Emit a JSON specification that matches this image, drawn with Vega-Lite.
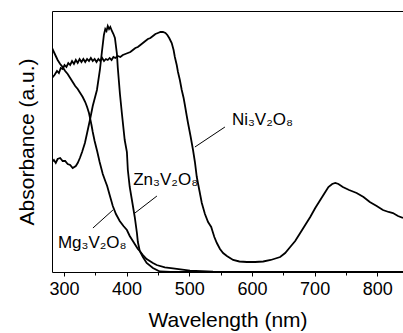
{
  "$schema": "https://vega.github.io/schema/vega-lite/v6.json",
  "width": 351,
  "height": 261,
  "autosize": "none",
  "padding": {"left": 52, "top": 11, "right": 0, "bottom": 61},
  "background": "white",
  "config": {
    "view": {"stroke": null},
    "font": "Liberation Sans",
    "axis": {"grid": false, "labelFont": "Liberation Sans", "titleFont": "Liberation Sans", "labelColor": "black", "titleColor": "black", "domainColor": "black", "tickColor": "black", "titleFontWeight": "normal"}
  },
  "datasets": {
    "curves": [
      {"s": "Mg", "wl": 281, "a": 224}, {"s": "Mg", "wl": 284, "a": 220}, {"s": "Mg", "wl": 287, "a": 216}, {"s": "Mg", "wl": 290, "a": 212},
      {"s": "Mg", "wl": 294, "a": 208}, {"s": "Mg", "wl": 298, "a": 205}, {"s": "Mg", "wl": 302, "a": 201}, {"s": "Mg", "wl": 306, "a": 198},
      {"s": "Mg", "wl": 310, "a": 194}, {"s": "Mg", "wl": 314, "a": 190}, {"s": "Mg", "wl": 318, "a": 186}, {"s": "Mg", "wl": 322, "a": 183},
      {"s": "Mg", "wl": 326, "a": 179}, {"s": "Mg", "wl": 330, "a": 175}, {"s": "Mg", "wl": 334, "a": 170}, {"s": "Mg", "wl": 337, "a": 165},
      {"s": "Mg", "wl": 340, "a": 159}, {"s": "Mg", "wl": 342, "a": 153}, {"s": "Mg", "wl": 344, "a": 147}, {"s": "Mg", "wl": 346, "a": 140},
      {"s": "Mg", "wl": 349, "a": 131}, {"s": "Mg", "wl": 353, "a": 121}, {"s": "Mg", "wl": 357, "a": 110}, {"s": "Mg", "wl": 362, "a": 98},
      {"s": "Mg", "wl": 366, "a": 91}, {"s": "Mg", "wl": 369, "a": 86}, {"s": "Mg", "wl": 373, "a": 77}, {"s": "Mg", "wl": 378, "a": 66},
      {"s": "Mg", "wl": 383, "a": 58}, {"s": "Mg", "wl": 389, "a": 51}, {"s": "Mg", "wl": 395, "a": 46}, {"s": "Mg", "wl": 400.5, "a": 42},
      {"s": "Mg", "wl": 405, "a": 36}, {"s": "Mg", "wl": 410, "a": 31}, {"s": "Mg", "wl": 414, "a": 27}, {"s": "Mg", "wl": 418, "a": 23},
      {"s": "Mg", "wl": 421, "a": 21}, {"s": "Mg", "wl": 426, "a": 17}, {"s": "Mg", "wl": 432, "a": 13}, {"s": "Mg", "wl": 442, "a": 9},
      {"s": "Mg", "wl": 448, "a": 7}, {"s": "Mg", "wl": 461, "a": 4.7}, {"s": "Mg", "wl": 474, "a": 3.7}, {"s": "Mg", "wl": 501, "a": 1.3},
      {"s": "Mg", "wl": 538, "a": 0.3}, {"s": "Mg", "wl": 580, "a": 0}, {"s": "Mg", "wl": 841, "a": 0},

      {"s": "Zn", "wl": 281, "a": 110}, {"s": "Zn", "wl": 284, "a": 112}, {"s": "Zn", "wl": 287, "a": 109}, {"s": "Zn", "wl": 290, "a": 113},
      {"s": "Zn", "wl": 294, "a": 114}, {"s": "Zn", "wl": 298, "a": 111}, {"s": "Zn", "wl": 302, "a": 111}, {"s": "Zn", "wl": 306, "a": 108},
      {"s": "Zn", "wl": 310, "a": 107}, {"s": "Zn", "wl": 314, "a": 104}, {"s": "Zn", "wl": 319, "a": 106}, {"s": "Zn", "wl": 322, "a": 109},
      {"s": "Zn", "wl": 325.5, "a": 114}, {"s": "Zn", "wl": 329, "a": 120}, {"s": "Zn", "wl": 333.5, "a": 129}, {"s": "Zn", "wl": 337, "a": 139},
      {"s": "Zn", "wl": 341.5, "a": 152}, {"s": "Zn", "wl": 346, "a": 166}, {"s": "Zn", "wl": 352.7, "a": 182}, {"s": "Zn", "wl": 357.4, "a": 202},
      {"s": "Zn", "wl": 360.6, "a": 220}, {"s": "Zn", "wl": 363.8, "a": 237}, {"s": "Zn", "wl": 366, "a": 243}, {"s": "Zn", "wl": 368, "a": 241},
      {"s": "Zn", "wl": 370, "a": 246}, {"s": "Zn", "wl": 372, "a": 243}, {"s": "Zn", "wl": 374, "a": 245}, {"s": "Zn", "wl": 376.6, "a": 241},
      {"s": "Zn", "wl": 379, "a": 238}, {"s": "Zn", "wl": 381.4, "a": 234}, {"s": "Zn", "wl": 383, "a": 226}, {"s": "Zn", "wl": 384.6, "a": 218},
      {"s": "Zn", "wl": 386, "a": 204}, {"s": "Zn", "wl": 389.4, "a": 178}, {"s": "Zn", "wl": 392.6, "a": 158}, {"s": "Zn", "wl": 397, "a": 132},
      {"s": "Zn", "wl": 400.5, "a": 120}, {"s": "Zn", "wl": 402, "a": 102}, {"s": "Zn", "wl": 405, "a": 85}, {"s": "Zn", "wl": 408.5, "a": 72},
      {"s": "Zn", "wl": 413, "a": 55}, {"s": "Zn", "wl": 416.5, "a": 39}, {"s": "Zn", "wl": 418, "a": 30}, {"s": "Zn", "wl": 421, "a": 21},
      {"s": "Zn", "wl": 426, "a": 15}, {"s": "Zn", "wl": 432, "a": 9}, {"s": "Zn", "wl": 442, "a": 4}, {"s": "Zn", "wl": 453, "a": 0.5},
      {"s": "Zn", "wl": 470, "a": 0}, {"s": "Zn", "wl": 841, "a": 0},

      {"s": "Ni", "wl": 281, "a": 194}, {"s": "Ni", "wl": 285, "a": 197}, {"s": "Ni", "wl": 289, "a": 201}, {"s": "Ni", "wl": 292, "a": 199},
      {"s": "Ni", "wl": 295, "a": 204}, {"s": "Ni", "wl": 298, "a": 203}, {"s": "Ni", "wl": 301, "a": 207}, {"s": "Ni", "wl": 304, "a": 205},
      {"s": "Ni", "wl": 307, "a": 209}, {"s": "Ni", "wl": 310, "a": 207}, {"s": "Ni", "wl": 313, "a": 211}, {"s": "Ni", "wl": 316, "a": 208},
      {"s": "Ni", "wl": 319, "a": 212}, {"s": "Ni", "wl": 322, "a": 209}, {"s": "Ni", "wl": 325, "a": 213}, {"s": "Ni", "wl": 328, "a": 210},
      {"s": "Ni", "wl": 331, "a": 213}, {"s": "Ni", "wl": 334, "a": 210}, {"s": "Ni", "wl": 337, "a": 213}, {"s": "Ni", "wl": 340, "a": 211},
      {"s": "Ni", "wl": 343, "a": 214}, {"s": "Ni", "wl": 346, "a": 211}, {"s": "Ni", "wl": 349, "a": 213}, {"s": "Ni", "wl": 352, "a": 210},
      {"s": "Ni", "wl": 355, "a": 213}, {"s": "Ni", "wl": 358, "a": 211}, {"s": "Ni", "wl": 361, "a": 214}, {"s": "Ni", "wl": 364, "a": 211},
      {"s": "Ni", "wl": 367, "a": 213}, {"s": "Ni", "wl": 370, "a": 212}, {"s": "Ni", "wl": 373, "a": 214}, {"s": "Ni", "wl": 376, "a": 212},
      {"s": "Ni", "wl": 379, "a": 215}, {"s": "Ni", "wl": 382, "a": 214}, {"s": "Ni", "wl": 386, "a": 216}, {"s": "Ni", "wl": 390, "a": 215},
      {"s": "Ni", "wl": 394, "a": 217}, {"s": "Ni", "wl": 398, "a": 218}, {"s": "Ni", "wl": 402, "a": 219}, {"s": "Ni", "wl": 406, "a": 220},
      {"s": "Ni", "wl": 410, "a": 222}, {"s": "Ni", "wl": 414, "a": 224}, {"s": "Ni", "wl": 418, "a": 225}, {"s": "Ni", "wl": 422, "a": 227},
      {"s": "Ni", "wl": 426, "a": 229}, {"s": "Ni", "wl": 430, "a": 231}, {"s": "Ni", "wl": 434, "a": 233}, {"s": "Ni", "wl": 438, "a": 234},
      {"s": "Ni", "wl": 442, "a": 236}, {"s": "Ni", "wl": 446, "a": 238}, {"s": "Ni", "wl": 450, "a": 239}, {"s": "Ni", "wl": 454, "a": 240},
      {"s": "Ni", "wl": 458, "a": 240}, {"s": "Ni", "wl": 462, "a": 239}, {"s": "Ni", "wl": 465, "a": 237}, {"s": "Ni", "wl": 468, "a": 234},
      {"s": "Ni", "wl": 472, "a": 229}, {"s": "Ni", "wl": 475, "a": 222}, {"s": "Ni", "wl": 477, "a": 215}, {"s": "Ni", "wl": 480, "a": 207},
      {"s": "Ni", "wl": 482, "a": 200}, {"s": "Ni", "wl": 485, "a": 192}, {"s": "Ni", "wl": 488, "a": 182}, {"s": "Ni", "wl": 491, "a": 174},
      {"s": "Ni", "wl": 493, "a": 167}, {"s": "Ni", "wl": 496, "a": 156}, {"s": "Ni", "wl": 498, "a": 149}, {"s": "Ni", "wl": 502, "a": 136},
      {"s": "Ni", "wl": 506, "a": 122}, {"s": "Ni", "wl": 509, "a": 110}, {"s": "Ni", "wl": 512, "a": 95}, {"s": "Ni", "wl": 516, "a": 82},
      {"s": "Ni", "wl": 520, "a": 69}, {"s": "Ni", "wl": 525, "a": 58}, {"s": "Ni", "wl": 530, "a": 50}, {"s": "Ni", "wl": 533, "a": 47},
      {"s": "Ni", "wl": 535, "a": 45}, {"s": "Ni", "wl": 537, "a": 41}, {"s": "Ni", "wl": 540, "a": 35}, {"s": "Ni", "wl": 544, "a": 29},
      {"s": "Ni", "wl": 549, "a": 23}, {"s": "Ni", "wl": 554, "a": 19}, {"s": "Ni", "wl": 560, "a": 16}, {"s": "Ni", "wl": 570, "a": 12},
      {"s": "Ni", "wl": 580, "a": 10.5}, {"s": "Ni", "wl": 592, "a": 10}, {"s": "Ni", "wl": 605, "a": 10}, {"s": "Ni", "wl": 618, "a": 10.5},
      {"s": "Ni", "wl": 630, "a": 12}, {"s": "Ni", "wl": 645, "a": 15}, {"s": "Ni", "wl": 653, "a": 19}, {"s": "Ni", "wl": 661, "a": 25},
      {"s": "Ni", "wl": 669, "a": 31}, {"s": "Ni", "wl": 677, "a": 39}, {"s": "Ni", "wl": 685, "a": 47}, {"s": "Ni", "wl": 693, "a": 55},
      {"s": "Ni", "wl": 701, "a": 64}, {"s": "Ni", "wl": 709, "a": 72}, {"s": "Ni", "wl": 716, "a": 79}, {"s": "Ni", "wl": 722, "a": 85},
      {"s": "Ni", "wl": 728, "a": 88}, {"s": "Ni", "wl": 733, "a": 89}, {"s": "Ni", "wl": 738, "a": 88}, {"s": "Ni", "wl": 745, "a": 85},
      {"s": "Ni", "wl": 755, "a": 82}, {"s": "Ni", "wl": 767, "a": 79}, {"s": "Ni", "wl": 778, "a": 75}, {"s": "Ni", "wl": 788, "a": 70},
      {"s": "Ni", "wl": 799, "a": 66}, {"s": "Ni", "wl": 809, "a": 62}, {"s": "Ni", "wl": 818, "a": 60}, {"s": "Ni", "wl": 825, "a": 59},
      {"s": "Ni", "wl": 833, "a": 56}, {"s": "Ni", "wl": 841, "a": 54}
    ],
    "leaders": [
      {"wl": 556.9, "a": 145, "wl2": 509, "a2": 125},
      {"wl": 448.4, "a": 76, "wl2": 413.3, "a2": 59},
      {"wl": 346.3, "a": 44, "wl2": 378.2, "a2": 62}
    ],
    "labels": [
      {"t": "Ni₃V₂O₈", "wl": 568, "a": 147},
      {"t": "Zn₃V₂O₈", "wl": 410.6, "a": 87},
      {"t": "Mg₃V₂O₈", "wl": 290.4, "a": 24}
    ]
  },
  "resolve": {"axis": {"x": "independent", "y": "independent"}},
  "layer": [
    {
      "data": {"name": "curves"},
      "mark": {"type": "line", "color": "black", "strokeWidth": 1.8, "clip": true},
      "encoding": {
        "x": {"field": "wl", "type": "quantitative", "scale": {"domain": [281, 841], "nice": false, "zero": false},
          "axis": {"orient": "bottom", "title": "Wavelength (nm)", "values": [300, 400, 500, 600, 700, 800], "tickSize": 4, "labelFontSize": 18, "titleFontSize": 21, "labelPadding": 4, "titlePadding": 11, "labelFlush": false}},
        "y": {"field": "a", "type": "quantitative", "scale": {"domain": [0, 261], "nice": false, "zero": false},
          "axis": {"orient": "left", "title": "Absorbance (a.u.)", "labels": false, "ticks": false, "domain": true, "titleFontSize": 21, "titlePadding": 15}},
        "detail": {"field": "s"}
      }
    },
    {
      "data": {"name": "leaders"},
      "mark": {"type": "rule", "color": "black", "strokeWidth": 1},
      "encoding": {
        "x": {"field": "wl", "type": "quantitative", "axis": {"orient": "bottom", "values": [350, 450, 550, 650, 750], "labels": false, "title": null, "domain": false, "ticks": true, "tickSize": 3}},
        "x2": {"field": "wl2"},
        "y": {"field": "a", "type": "quantitative", "axis": null},
        "y2": {"field": "a2"}
      }
    },
    {
      "data": {"name": "labels"},
      "mark": {"type": "text", "align": "left", "baseline": "alphabetic", "fontSize": 17, "font": "Liberation Sans", "color": "black"},
      "encoding": {
        "x": {"field": "wl", "type": "quantitative", "axis": {"orient": "top", "labels": false, "ticks": false, "tickSize": 0, "title": null, "domain": true}},
        "y": {"field": "a", "type": "quantitative", "axis": null},
        "text": {"field": "t"}
      }
    }
  ]
}
